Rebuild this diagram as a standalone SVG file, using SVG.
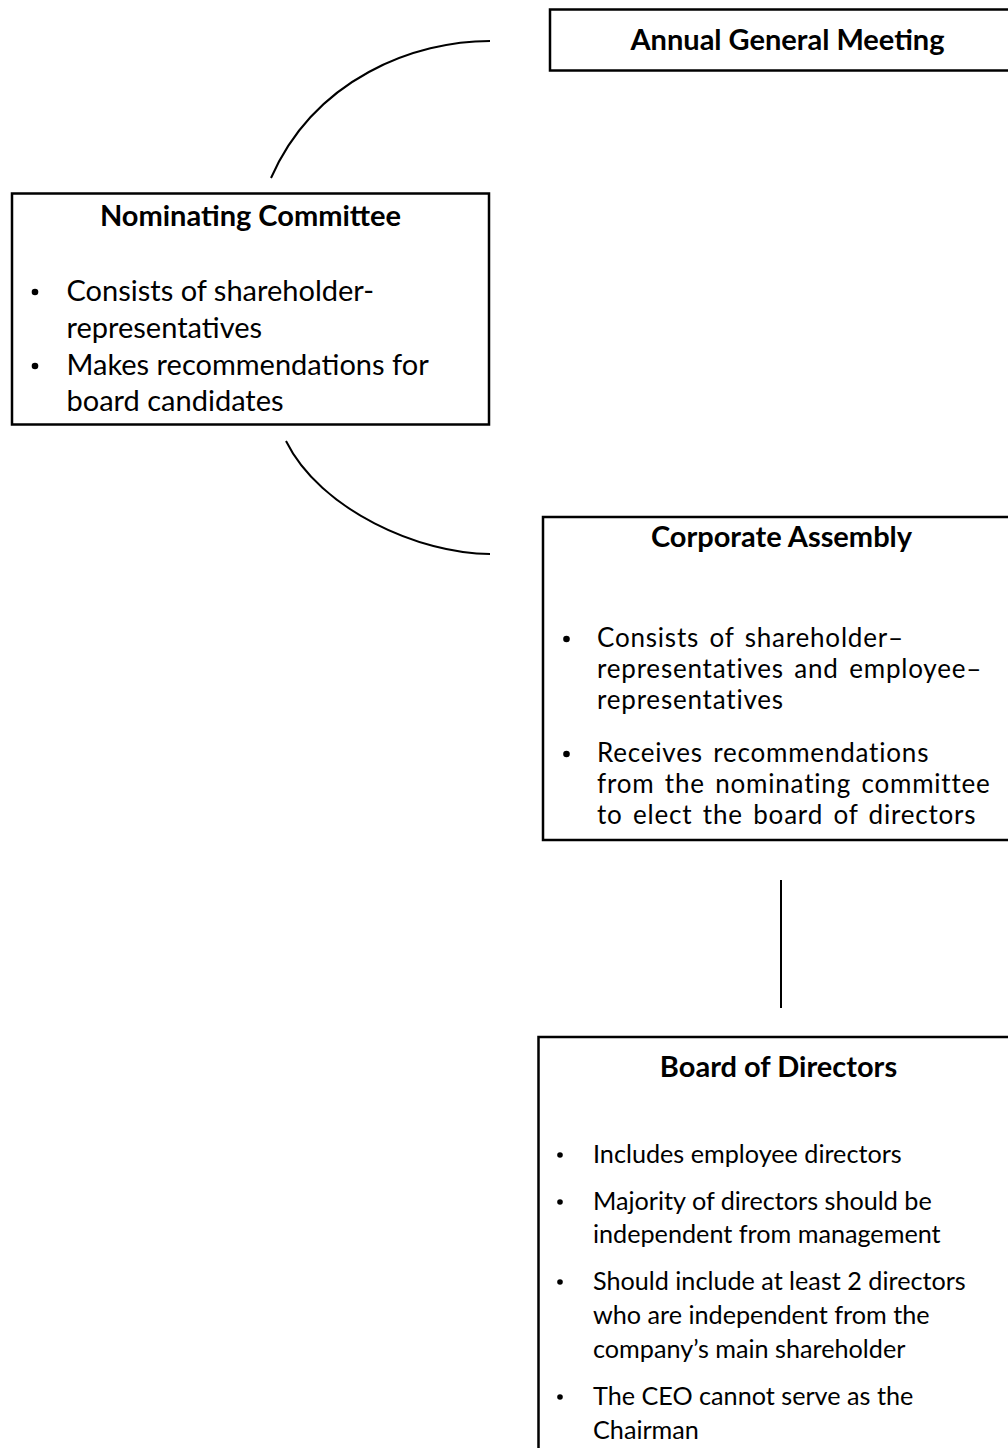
<svg xmlns="http://www.w3.org/2000/svg" width="1008" height="1448" viewBox="0 0 1008 1448">
  <style>
    .box { fill: #ffffff; stroke: #000000; stroke-width: 2.5; }
    .link { fill: none; stroke: #000000; stroke-width: 2; }
    .title { font-family: Lato, "Liberation Sans", sans-serif; font-weight: bold; font-size: 29px; fill: #000000; text-anchor: middle; }
    .body { font-family: Lato, "Liberation Sans", sans-serif; font-size: 29px; fill: #000000; }
    .tight { font-size: 26px; letter-spacing: 0.8px; word-spacing: 3px; }
    .small { font-size: 25.2px; }
    .dot { fill: #000000; }
  </style>
  <rect width="1008" height="1448" fill="#ffffff"/>

  <!-- links between the governance bodies -->
  <g id="connectors">
    <path class="link" d="M490,41 C415,41 315,78 271,178"/>
    <path class="link" d="M286,441 C320,510 420,554 490,554"/>
    <line class="link" x1="781" y1="880" x2="781" y2="1008"/>
  </g>

  <g id="annual-general-meeting">
    <rect class="box" x="550" y="9.5" width="480" height="61"/>
    <text class="title" x="787.5" y="50">Annual General Meeting</text>
  </g>

  <g id="nominating-committee">
    <rect class="box" x="12" y="193.5" width="477" height="231"/>
    <text class="title" x="250.5" y="226">Nominating Committee</text>
    <circle class="dot" cx="35" cy="292" r="3.3"/>
    <text class="body" x="66.5" y="301">Consists of shareholder-<tspan x="66.5" dy="36.5">representatives</tspan></text>
    <circle class="dot" cx="35" cy="366" r="3.3"/>
    <text class="body" x="66.5" y="374.5">Makes recommendations for<tspan x="66.5" dy="36.5">board candidates</tspan></text>
  </g>

  <g id="corporate-assembly">
    <rect class="box" x="543" y="517" width="480" height="323"/>
    <text class="title" x="781.5" y="547">Corporate Assembly</text>
    <circle class="dot" cx="566.5" cy="639" r="3.3"/>
    <text class="body tight" x="597" y="647">Consists of shareholder–<tspan x="597" dy="31.2">representatives and employee–</tspan><tspan x="597" dy="31.2">representatives</tspan></text>
    <circle class="dot" cx="566.5" cy="754" r="3.3"/>
    <text class="body tight" x="597" y="762">Receives recommendations<tspan x="597" dy="31.2">from the nominating committee</tspan><tspan x="597" dy="31.2">to elect the board of directors</tspan></text>
  </g>

  <g id="board-of-directors">
    <rect class="box" x="538.5" y="1037" width="485" height="430"/>
    <text class="title" x="778.5" y="1077">Board of Directors</text>
    <circle class="dot" cx="560" cy="1155" r="2.8"/>
    <text class="body small" x="593" y="1163">Includes employee directors</text>
    <circle class="dot" cx="560" cy="1202" r="2.8"/>
    <text class="body small" x="593" y="1210">Majority of directors should be<tspan x="593" dy="33">independent from management</tspan></text>
    <circle class="dot" cx="560" cy="1282" r="2.8"/>
    <text class="body small" x="593" y="1290">Should include at least 2 directors<tspan x="593" dy="34">who are independent from the</tspan><tspan x="593" dy="34">company’s main shareholder</tspan></text>
    <circle class="dot" cx="560" cy="1397" r="2.8"/>
    <text class="body small" x="593" y="1405">The CEO cannot serve as the<tspan x="593" dy="34">Chairman</tspan></text>
  </g>
</svg>
